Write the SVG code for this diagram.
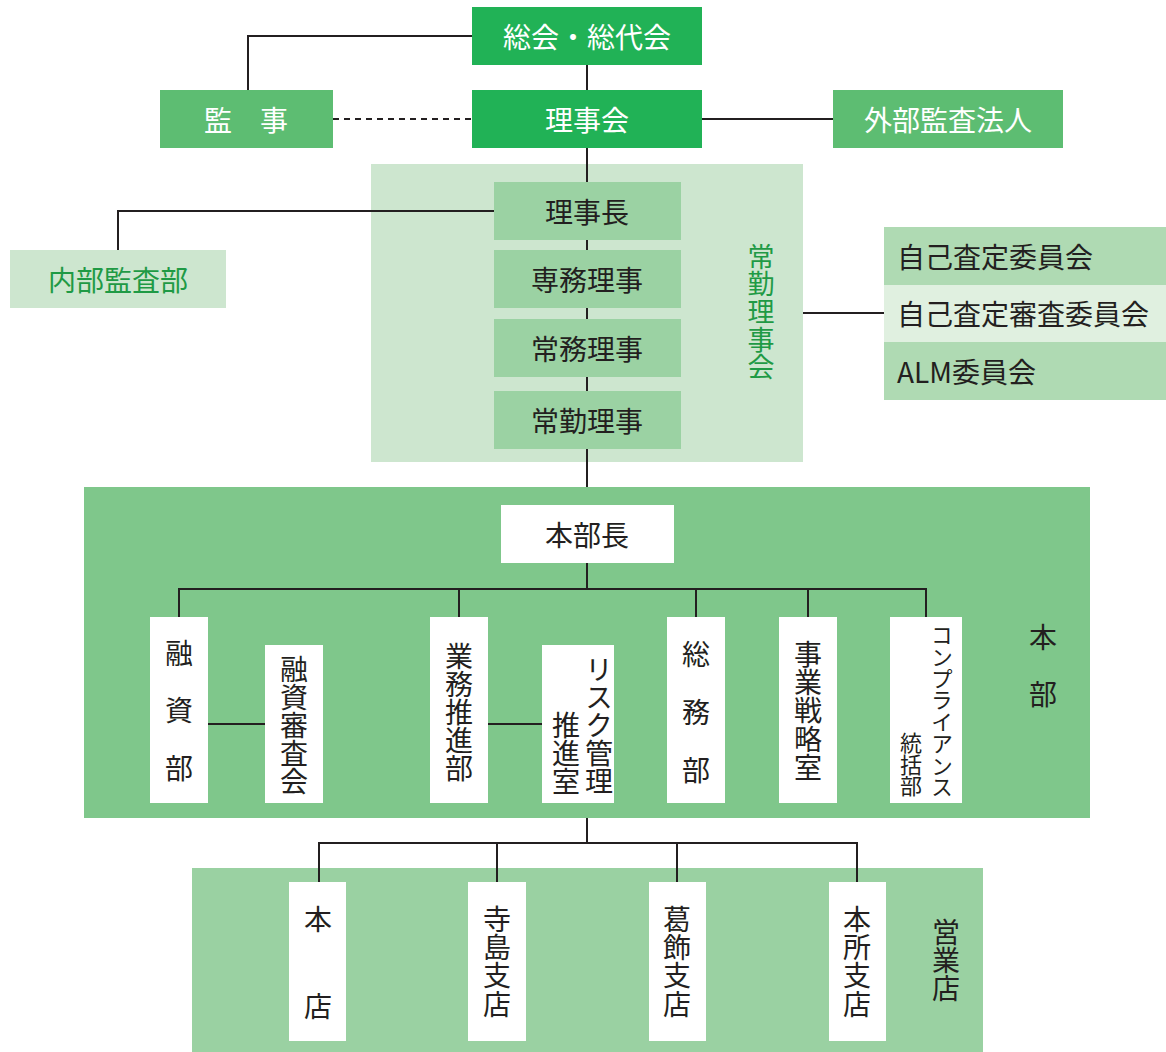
<svg xmlns="http://www.w3.org/2000/svg" width="1166" height="1052" viewBox="0 0 1166 1052">
<style>
text{font-family:"Noto Sans CJK JP","Noto Sans",sans-serif;font-size:28px;fill:#231f20}
.c{text-anchor:middle;dominant-baseline:central}
.w{fill:#ffffff}
.g{fill:#1f9a45}
.v{writing-mode:vertical-rl;text-anchor:start}
.s22{font-size:22px}
.s27{font-size:27px}
.ln{stroke:#231f20;stroke-width:2;fill:none}
.dk{fill:#21b256}
.md{fill:#5dbd72}
.lt{fill:#cde6cf}
.bx{fill:#9bd2a3}
.wh{fill:#ffffff}
</style>
<rect x="371" y="164" width="432" height="298" class="lt"/>
<rect x="84" y="487" width="1006" height="331" fill="#7fc78b"/>
<rect x="192" y="868" width="791" height="184" fill="#9ad1a2"/>
<g id="connectors">
<polyline class="ln" points="472,36 248,36 248,90"/>
<line class="ln" x1="587" y1="65" x2="587" y2="90"/>
<line class="ln" x1="333" y1="119" x2="472" y2="119" stroke-dasharray="6,5"/>
<line class="ln" x1="702" y1="119" x2="833" y2="119"/>
<line class="ln" x1="587" y1="148" x2="587" y2="487"/>
<polyline class="ln" points="494,211 118,211 118,250"/>
<line class="ln" x1="803" y1="313" x2="884" y2="313"/>
<line class="ln" x1="587" y1="563" x2="587" y2="589"/>
<polyline class="ln" points="179,617 179,589 926,589 926,617"/>
<line class="ln" x1="459" y1="589" x2="459" y2="617"/>
<line class="ln" x1="696" y1="589" x2="696" y2="617"/>
<line class="ln" x1="808" y1="589" x2="808" y2="617"/>
<line class="ln" x1="208" y1="724" x2="265" y2="724"/>
<line class="ln" x1="488" y1="724" x2="542" y2="724"/>
<line class="ln" x1="587" y1="818" x2="587" y2="843"/>
<polyline class="ln" points="319,882 319,843 857,843 857,882"/>
<line class="ln" x1="497" y1="843" x2="497" y2="882"/>
<line class="ln" x1="677" y1="843" x2="677" y2="882"/>
</g>
<g id="soukai"><rect x="472" y="7" width="230" height="58" class="dk"/><text x="587" y="36" class="c w">総会・総代会</text></g>
<g id="kanji"><rect x="160" y="90" width="173" height="58" class="md"/><text x="246" y="119" class="c w">監　事</text></g>
<g id="rijikai"><rect x="472" y="90" width="230" height="58" class="dk"/><text x="587" y="119" class="c w">理事会</text></g>
<g id="gaibu"><rect x="833" y="90" width="230" height="58" class="md"/><text x="948" y="119" class="c w">外部監査法人</text></g>
<g id="jokin-rijikai"><text x="761" y="243" class="v g s27" letter-spacing="0.6">常勤理事会</text></g>
<g id="rijicho"><rect x="494" y="182" width="187" height="58" class="bx"/><text x="587" y="211" class="c">理事長</text></g>
<g id="senmu"><rect x="494" y="250" width="187" height="58" class="bx"/><text x="587" y="279" class="c">専務理事</text></g>
<g id="jomu"><rect x="494" y="319" width="187" height="58" class="bx"/><text x="587" y="348" class="c">常務理事</text></g>
<g id="jokin"><rect x="494" y="391" width="187" height="58" class="bx"/><text x="587" y="420" class="c">常勤理事</text></g>
<g id="naibu"><rect x="10" y="250" width="216" height="58" class="lt"/><text x="118" y="279" class="c g">内部監査部</text></g>
<g id="committees">
<rect x="884" y="227" width="282" height="58" fill="#afdab3"/>
<rect x="884" y="285" width="282" height="57" fill="#e0f0e0"/>
<rect x="884" y="342" width="282" height="58" fill="#afdab3"/>
<text x="897" y="256" dominant-baseline="central">自己査定委員会</text>
<text x="897" y="313" dominant-baseline="central">自己査定審査委員会</text>
<text x="897" y="371" dominant-baseline="central">ALM委員会</text>
</g>
<g id="honbucho"><rect x="501" y="505" width="173" height="58" class="wh"/><text x="587" y="534" class="c">本部長</text></g>
<g id="yushibu"><rect x="150" y="617" width="58" height="186" class="wh"/><text x="179" y="639" class="v" letter-spacing="0.8">融　資　部</text></g>
<g id="yushishinsakai"><rect x="265" y="645" width="58" height="158" class="wh"/><text x="294" y="655" class="v">融資審査会</text></g>
<g id="gyomu"><rect x="430" y="617" width="58" height="186" class="wh"/><text x="459" y="642" class="v">業務推進部</text></g>
<g id="risk"><rect x="542" y="645" width="72" height="158" class="wh"/><text x="599" y="655" class="v">リスク管理</text><text x="566" y="711" class="v">推進室</text></g>
<g id="somubu"><rect x="667" y="617" width="58" height="186" class="wh"/><text x="696" y="640" class="v" letter-spacing="1">総　務　部</text></g>
<g id="jigyo"><rect x="779" y="617" width="58" height="186" class="wh"/><text x="808" y="640" class="v" letter-spacing="0.4">事業戦略室</text></g>
<g id="compliance"><rect x="890" y="617" width="72" height="186" class="wh"/><text x="942" y="624" class="v s22" letter-spacing="-0.3">コンプライアンス</text><text x="911" y="732" class="v s22" letter-spacing="-0.6">統括部</text></g>
<g id="honbu-label"><text x="1043" y="623" class="v" letter-spacing="0.5">本　部</text></g>
<g id="honten"><rect x="289" y="882" width="57" height="159" class="wh"/><text x="318" y="905" class="v" letter-spacing="1">本　　店</text></g>
<g id="terajima"><rect x="468" y="882" width="58" height="159" class="wh"/><text x="497" y="905" class="v" letter-spacing="0.3">寺島支店</text></g>
<g id="katsushika"><rect x="649" y="882" width="57" height="159" class="wh"/><text x="677" y="905" class="v" letter-spacing="0.3">葛飾支店</text></g>
<g id="honjo"><rect x="829" y="882" width="57" height="159" class="wh"/><text x="857" y="905" class="v" letter-spacing="0.3">本所支店</text></g>
<g id="eigyoten-label"><text x="946" y="918" class="v">営業店</text></g>
</svg>
